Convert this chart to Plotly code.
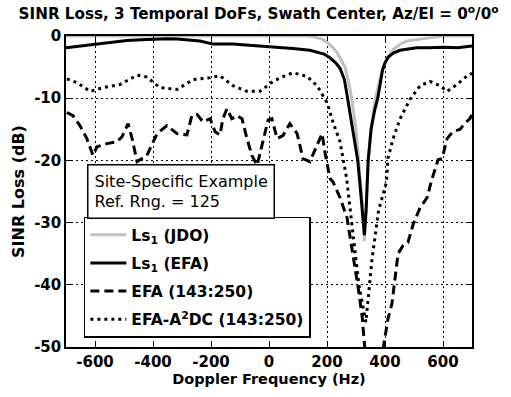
import plotly.graph_objects as go

# ---- data ----
jdo_x = [-700, -400, -100, 100, 140, 160, 183, 200, 221, 235, 245, 262, 275, 285, 300, 310, 322, 329,
         336, 342, 352, 365, 380, 393, 410, 428, 450, 476, 520, 560, 600, 700]
jdo_y = [0, 0, 0, 0, 0, -0.2, -0.5, -1.0, -1.9, -2.7, -3.5, -5, -7.5, -10, -15, -20, -27, -33,
         -27, -20, -15, -10.5, -7.5, -5, -3.3, -2.2, -1.4, -0.8, -0.5, -0.2, 0, 0]

efa_x = [-700, -650, -607, -548, -490, -440, -400, -350, -317, -270, -238, -193, -160, -124, -80, -31,
         28, 83, 141, 170, 190, 210, 230, 245, 260, 271, 285, 297, 306, 314, 322, 329,
         335, 338, 342, 352, 364, 375, 383, 391, 400, 411, 430, 452, 480, 509, 550, 600, 650, 700]
efa_y = [-1.9, -1.6, -1.4, -1.06, -0.74, -0.6, -0.5, -0.45, -0.5, -0.65, -0.8, -1.3, -1.25, -1.3, -1.45, -1.6,
         -1.8, -2.0, -2.3, -2.6, -2.9, -3.5, -4.3, -5.2, -7, -10, -14, -18, -20, -24, -28, -32,
         -28, -24, -20, -15, -12, -10, -7.5, -5.6, -4.3, -3.4, -2.7, -2.3, -2.1, -1.9, -1.9, -1.8, -1.9, -1.6]

efa143_x = [-697, -676, -652, -628, -607, -593, -559, -524, -507, -486, -472, -455, -421, -386, -352, -317,
            -283, -266, -248, -228, -203, -186, -169, -159, -145, -128, -110, -93, -76, -59, -41, -21,
            -3, 10, 28, 48, 72, 97, 117, 141, 166, 183, 193, 210, 221, 245, 269, 290, 307, 321, 331,
            393, 410, 424, 434, 445, 462, 479, 497, 521, 545, 562, 583, 597, 614, 634, 659, 676, 693, 700]
efa143_y = [-12.3, -12.8, -14.4, -16.5, -19.2, -17.8, -17.3, -17, -16.2, -14.1, -16.5, -20.2, -19.2, -15.7, -14.4, -15.7,
            -15.9, -12.8, -12.6, -13.8, -13.3, -15.4, -15.9, -13.3, -11.7, -13.3, -12.8, -13.3, -16.5, -19.2, -20.8, -17,
            -13.5, -13.3, -16.5, -16, -14.1, -15.7, -19.7, -20.2, -17.6, -15.7, -18.7, -22.9, -23.5, -26, -29.2, -35, -40.3, -45, -50.5,
            -50.5, -45.5, -43, -38.7, -35, -33.7, -33.2, -30.3, -27.6, -26, -23, -19.9, -19.7, -16.5, -15.4, -15, -14, -13.3, -12.5]

a2dc_x = [-697, -662, -617, -572, -514, -455, -421, -376, -317, -262, -203, -169, -124, -76, -31,
          14, 50, 83, 131, 166, 200, 221, 245, 268, 290, 310, 334,
          355, 378, 405, 410, 428, 452, 486, 521, 555, 590, 614, 648, 683, 700]
a2dc_y = [-6.9, -7.5, -8.9, -8.3, -7.8, -6.3, -6.6, -8.3, -8.6, -7.0, -6.7, -6.4, -8.0, -8.9, -8.9,
          -7.3, -6.5, -5.9, -6.5, -8.0, -10.7, -13.9, -17, -23, -32, -40, -46,
          -36, -28, -23.5, -19.7, -16.5, -13.3, -10.2, -8, -7.3, -8, -8.9, -7.8, -6.4, -6.0]

x_ticks = [-600, -400, -200, 0, 200, 400, 600]
y_ticks = [0, -10, -20, -30, -40, -50]

FONT = "DejaVu Sans"

fig = go.Figure()
fig.add_trace(go.Scatter(x=jdo_x, y=jdo_y, mode="lines", name="Ls<sub>1</sub> (JDO)",
                         line=dict(color="#c0c0c0", width=3), legendgroup="a"))
fig.add_trace(go.Scatter(x=efa_x, y=efa_y, mode="lines", name="Ls<sub>1</sub> (EFA)",
                         line=dict(color="black", width=3), legendgroup="b"))
fig.add_trace(go.Scatter(x=efa143_x, y=efa143_y, mode="lines", name="EFA (143:250)",
                         line=dict(color="black", width=3, dash="9px,5px"), legendgroup="c"))
fig.add_trace(go.Scatter(x=a2dc_x, y=a2dc_y, mode="lines", name="EFA-A<sup>2</sup>DC (143:250)",
                         line=dict(color="black", width=3, dash="3px,4px"), legendgroup="d"))

axis_common = dict(showline=True, linecolor="black", linewidth=1.5, mirror="ticks",
                   ticks="inside", ticklen=5, tickwidth=1, tickcolor="black",
                   showgrid=True, gridcolor="black", gridwidth=1, griddash="2px,3px",
                   zeroline=False,
                   tickfont=dict(family=FONT, size=15, color="black", weight="bold"))

fig.update_xaxes(range=[-700, 700], tickvals=x_ticks, ticktext=[str(v) for v in x_ticks],
                 title=dict(text="Doppler Frequency (Hz)", standoff=4,
                            font=dict(family=FONT, size=14.5, color="black", weight="bold")),
                 **axis_common)
fig.update_yaxes(range=[-50, 0], tickvals=y_ticks, ticktext=[str(v) for v in y_ticks],
                 title=dict(text="SINR Loss (dB)", standoff=6,
                            font=dict(family=FONT, size=16, color="black", weight="bold")),
                 **axis_common)

fig.update_layout(
    width=511, height=397,
    margin=dict(l=66, r=39, t=36, b=46),
    paper_bgcolor="white", plot_bgcolor="white",
    title=dict(text="SINR Loss, 3 Temporal DoFs, Swath Center, Az/El = 0<sup>o</sup>/0<sup>o</sup>",
               x=0.506, xanchor="center", y=0.978, yanchor="top",
               font=dict(family=FONT, size=15.2, color="black", weight="bold")),
    legend=dict(x=0.044, y=0.419, xanchor="left", yanchor="top",
                bgcolor="white", bordercolor="black", borderwidth=1.5,
                font=dict(family=FONT, size=15.5, color="black", weight="bold"),
                tracegroupgap=5, itemwidth=36),
    showlegend=True,
    annotations=[dict(text="Site-Specific Example<br>Ref. Rng. = 125", xref="paper", yref="paper",
                      x=0.052, y=0.590, xanchor="left", yanchor="top", align="left",
                      showarrow=False, bgcolor="white", bordercolor="black", borderwidth=1.5,
                      borderpad=6, font=dict(family=FONT, size=16, color="black"))],
)

fig.write_html("out.html")
